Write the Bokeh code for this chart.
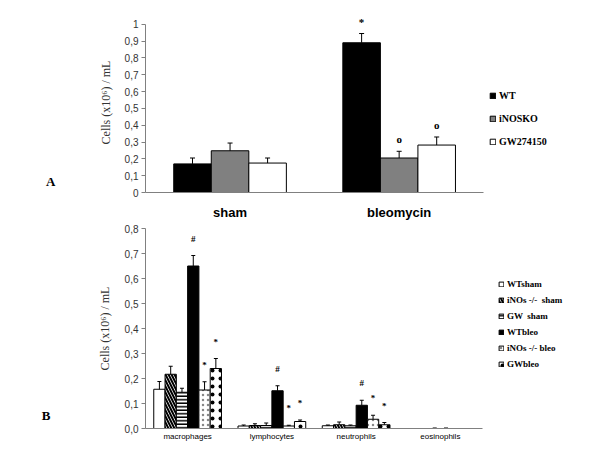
from bokeh.plotting import figure
from bokeh.models import (ColumnDataSource, Range1d, FixedTicker, LinearAxis,
                          CustomJSTickFormatter, Legend, LegendItem)
from bokeh.layouts import column
from bokeh.embed import file_html
from bokeh.resources import INLINE
from bokeh.core.properties import value

# ---------------- Panel A data ----------------
groups_A = ["sham", "bleomycin"]
series_A = ["WT", "iNOSKO", "GW274150"]
wt_A = [0.170, 0.890]
wt_A_err = [0.035, 0.055]
ko_A = [0.248, 0.205]
ko_A_err = [0.046, 0.040]
gw_A = [0.175, 0.282]
gw_A_err = [0.030, 0.048]
wt_A_mark = ["", "*"]
ko_A_mark = ["", "o"]
gw_A_mark = ["", "o"]
ticks_A = [0, 0.1, 0.2, 0.3, 0.4, 0.5, 0.6, 0.7, 0.8, 0.9, 1.0]
tick_labels_A = ["0", "0,1", "0,2", "0,3", "0,4", "0,5", "0,6", "0,7", "0,8", "0,9", "1"]

# ---------------- Panel B data ----------------
groups_B = ["macrophages", "lymphocytes", "neutrophils", "eosinophils"]
series_B = ["WTsham", "iNOs -/-  sham", "GW  sham", "WTbleo", "iNOs -/- bleo", "GWbleo"]
wt_sham_B = [0.157, 0.010, 0.011, 0.0]
wt_sham_B_err = [0.031, 0.004, 0.003, 0.0]
ko_sham_B = [0.217, 0.012, 0.015, 0.0]
ko_sham_B_err = [0.032, 0.007, 0.011, 0.0]
gw_sham_B = [0.145, 0.012, 0.011, 0.0]
gw_sham_B_err = [0.016, 0.010, 0.003, 0.002]
wt_bleo_B = [0.650, 0.151, 0.093, 0.0]
wt_bleo_B_err = [0.042, 0.020, 0.020, 0.002]
ko_bleo_B = [0.154, 0.010, 0.037, 0.0]
ko_bleo_B_err = [0.033, 0.003, 0.016, 0.0]
gw_bleo_B = [0.240, 0.028, 0.015, 0.0]
gw_bleo_B_err = [0.040, 0.006, 0.009, 0.0]
wt_sham_B_mark = ["", "", "", ""]
ko_sham_B_mark = ["", "", "", ""]
gw_sham_B_mark = ["", "", "", ""]
wt_bleo_B_mark = ["#", "#", "#", ""]
ko_bleo_B_mark = ["*", "*", "*", ""]
gw_bleo_B_mark = ["*", "*", "*", ""]
ticks_B = [0, 0.1, 0.2, 0.3, 0.4, 0.5, 0.6, 0.7, 0.8]
tick_labels_B = ["0,0", "0,1", "0,2", "0,3", "0,4", "0,5", "0,6", "0,7", "0,8"]

# panel tags
panel_tags = ["A", "B"]

YLABEL = "Cells (x10\u2076) / mL"
SERIF = "Liberation Serif"
SANS = "Liberation Sans"
AXIS_GREY = "#808080"
TEXT_GREY = "#333333"


def make_src(xs, vals, errs, marks):
    return ColumnDataSource(dict(
        x=xs, top=vals,
        upper=[v + e for v, e in zip(vals, errs)],
        mark=marks,
        la=[1.0 if v > 0 else 0.0 for v in vals],
        ca=[1.0 if e > 0 else 0.0 for e in errs],
    ))


def tick_fmt(tvals, tlabs):
    return CustomJSTickFormatter(args=dict(tvals=tvals, tlabs=tlabs), code="""
        for (let i = 0; i < tvals.length; i++) {
            if (Math.abs(tvals[i] - tick) < 1e-9) return tlabs[i];
        }
        return '';
    """)


def bare_axis(**kw):
    ax = LinearAxis(axis_line_color=None, major_tick_line_color=None,
                    minor_tick_line_color=None, major_tick_out=0, major_tick_in=0,
                    minor_tick_out=0, minor_tick_in=0, major_label_standoff=0, **kw)
    return ax


def style_axes(p, groups, ticks, labels, cat_size, cat_style, cat_standoff,
               lab_bounds, lab_standoff, tag, tag_y, tag_standoff):
    p.xgrid.visible = False
    p.ygrid.visible = False
    p.outline_line_color = None
    p.background_fill_color = "white"
    p.border_fill_color = "white"
    # value axis (ticks + tick labels)
    ya = p.yaxis[0]
    ya.ticker = FixedTicker(ticks=ticks)
    ya.formatter = tick_fmt(ticks, labels)
    ya.bounds = (ticks[0], ticks[-1])
    ya.axis_line_color = AXIS_GREY
    ya.major_tick_line_color = AXIS_GREY
    ya.major_tick_out = 4
    ya.major_tick_in = 0
    ya.minor_tick_line_color = None
    ya.major_label_text_font = SANS
    ya.major_label_text_font_size = "10px"
    ya.major_label_text_color = TEXT_GREY
    ya.major_label_standoff = 3
    # axis title on its own bare axis (lets it sit lower, as in the original)
    lab = bare_axis(ticker=FixedTicker(ticks=[]), bounds=lab_bounds, axis_label=YLABEL,
                    axis_label_text_font=SERIF, axis_label_text_font_style="normal",
                    axis_label_text_font_size="12px", axis_label_text_color=TEXT_GREY,
                    axis_label_standoff=lab_standoff)
    p.add_layout(lab, "left")
    # panel letter
    tg = bare_axis(ticker=FixedTicker(ticks=[tag_y]), formatter=tick_fmt([tag_y], [tag]),
                   major_label_text_font=SERIF, major_label_text_font_style="bold",
                   major_label_text_font_size="13px", major_label_text_color="black")
    tg.major_label_standoff = tag_standoff
    p.add_layout(tg, "left")
    # category axis
    centers = [k + 0.5 for k in range(len(groups))]
    xa = p.xaxis[0]
    xa.ticker = FixedTicker(ticks=centers)
    xa.formatter = tick_fmt(centers, groups)
    xa.bounds = (0, len(groups))
    xa.axis_line_color = AXIS_GREY
    xa.major_tick_line_color = None
    xa.minor_tick_line_color = None
    xa.major_tick_out = 0
    xa.major_tick_in = 0
    xa.minor_tick_out = 0
    xa.major_label_text_font = SANS
    xa.major_label_text_font_size = cat_size
    xa.major_label_text_font_style = cat_style
    xa.major_label_text_color = "black"
    xa.major_label_standoff = cat_standoff


# ================= Panel A =================
# frame: 450 px wide, 171 px per group -> groups + room for the legend
pA = figure(width=600, height=222, x_range=Range1d(0, 450 / 171), y_range=Range1d(0, 1.07),
            output_backend="svg", toolbar_location=None,
            min_border_left=140, min_border_right=10, min_border_top=12, min_border_bottom=29)
style_axes(pA, groups_A, ticks_A, tick_labels_A, "13px", "bold", 12,
           (0, 0.77), 9, panel_tags[0], 0.065, 40)

wA = 0.222
styles_A = [
    dict(fill_color="black"),
    dict(fill_color="#808080"),
    dict(fill_color="white"),
]
data_A = [(wt_A, wt_A_err, wt_A_mark), (ko_A, ko_A_err, ko_A_mark), (gw_A, gw_A_err, gw_A_mark)]
items_A = []
for i, ((vals, errs, marks), st, name) in enumerate(zip(data_A, styles_A, series_A)):
    off = (i - 1) * wA
    xs = [k + 0.5 + off for k in range(len(groups_A))]
    src = make_src(xs, vals, errs, marks)
    r = pA.vbar(x="x", top="top", width=wA, source=src, line_color="black", line_width=1, **st)
    pA.segment(x0="x", y0="top", x1="x", y1="upper", source=src, line_color="black", line_width=1)
    pA.scatter(x="x", y="upper", marker="dash", size=5, source=src, line_color="black",
               line_width=1, line_alpha="ca")
    pA.text(x="x", y="upper", text="mark", source=src, text_font=value(SERIF),
            text_font_size="11px", text_font_style="bold", text_align="center",
            text_baseline="middle", y_offset=-12, text_color="black")
    items_A.append(LegendItem(label=name, renderers=[r]))

legA = Legend(items=items_A, location=(344, 45), orientation="vertical",
              glyph_width=7, glyph_height=7, label_height=10, spacing=12, padding=0, margin=0,
              label_standoff=3, border_line_color=None, background_fill_alpha=0,
              label_text_font=SERIF, label_text_font_style="bold", label_text_font_size="10px",
              label_text_color="black")
pA.add_layout(legA, "center")

# ================= Panel B =================
pB = figure(width=600, height=224, x_range=Range1d(0, 445 / 84.25), y_range=Range1d(0, 0.8),
            output_backend="svg", toolbar_location=None,
            min_border_left=145, min_border_right=10, min_border_top=6, min_border_bottom=18)
style_axes(pB, groups_B, ticks_B, tick_labels_B, "8px", "normal", 3,
           (0, 0.664), 10, panel_tags[1], 0.052, 44)

wB = 0.134
styles_B = [
    dict(fill_color="white"),
    dict(fill_color="white", hatch_pattern="left_diagonal_line", hatch_color="black",
         hatch_weight=2, hatch_scale=6),
    dict(fill_color="white", hatch_pattern="horizontal_line", hatch_color="black",
         hatch_weight=1.5, hatch_scale=3.5),
    dict(fill_color="black"),
    dict(fill_color="white", hatch_pattern="dot", hatch_color="#888888",
         hatch_weight=1, hatch_scale=5),
    dict(fill_color="white", hatch_pattern="dot", hatch_color="black",
         hatch_weight=5, hatch_scale=8),
]
data_B = [
    (wt_sham_B, wt_sham_B_err, wt_sham_B_mark),
    (ko_sham_B, ko_sham_B_err, ko_sham_B_mark),
    (gw_sham_B, gw_sham_B_err, gw_sham_B_mark),
    (wt_bleo_B, wt_bleo_B_err, wt_bleo_B_mark),
    (ko_bleo_B, ko_bleo_B_err, ko_bleo_B_mark),
    (gw_bleo_B, gw_bleo_B_err, gw_bleo_B_mark),
]
items_B = []
for i, ((vals, errs, marks), st, name) in enumerate(zip(data_B, styles_B, series_B)):
    off = (i - 2.5) * wB
    xs = [k + 0.5 + off for k in range(len(groups_B))]
    src = make_src(xs, vals, errs, marks)
    r = pB.vbar(x="x", top="top", width=wB, source=src, line_color="black", line_width=1,
                line_alpha="la", **st)
    pB.segment(x0="x", y0="top", x1="x", y1="upper", source=src, line_color="black",
               line_width=1, line_alpha="ca")
    pB.scatter(x="x", y="upper", marker="dash", size=4, source=src, line_color="black",
               line_width=1, line_alpha="ca")
    pB.text(x="x", y="upper", text="mark", source=src, text_font=value(SERIF),
            text_font_size="9px", text_font_style="bold", text_align="center",
            text_baseline="middle", y_offset=-17, text_color="black")
    items_B.append(LegendItem(label=name, renderers=[r]))

legB = Legend(items=items_B, location=(353, 59), orientation="vertical",
              glyph_width=6, glyph_height=6, label_height=9, spacing=6, padding=0, margin=0,
              label_standoff=3, border_line_color=None, background_fill_alpha=0,
              label_text_font=SERIF, label_text_font_style="bold", label_text_font_size="9px",
              label_text_color="black")
pB.add_layout(legB, "center")

layout = column(pA, pB, spacing=0)
open("out.html", "w").write(file_html(layout, INLINE))
